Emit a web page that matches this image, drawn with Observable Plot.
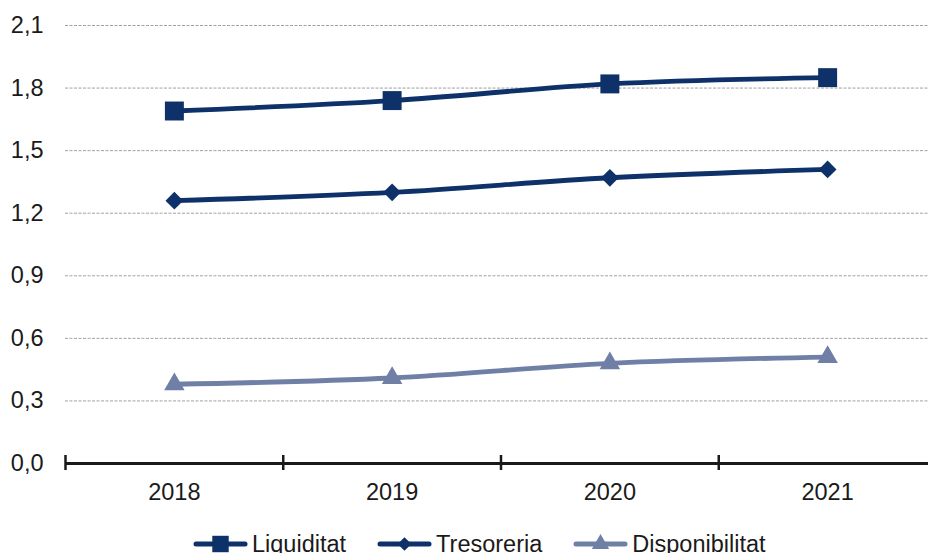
<!DOCTYPE html>
<html><head><meta charset="utf-8">
<script src="https://cdn.jsdelivr.net/npm/d3@7"></script>
<script src="https://cdn.jsdelivr.net/npm/@observablehq/plot@0.6"></script>
<style>
html,body{margin:0;padding:0;background:#fff;overflow:hidden;}
#chart{width:928px;height:553px;position:relative;font-family:"Liberation Sans",Arial,sans-serif;}
#legend{display:flex;align-items:center;height:36px;padding-left:193px;font-size:23.5px;color:#1a1a1a;white-space:nowrap;}
.item{display:flex;align-items:center;margin-right:31px}
.item span{margin-left:4px}
</style></head><body><div id="chart"></div>
<script>
const years = [2018, 2019, 2020, 2021];
const liquiditat = [1.69, 1.74, 1.82, 1.85];
const tresoreria = [1.26, 1.30, 1.37, 1.41];
const disponibilitat = [0.38, 0.41, 0.48, 0.51];
const seriesNames = ["Liquiditat", "Tresoreria", "Disponibilitat"];
const seriesValues = [liquiditat, tresoreria, disponibilitat];
const seriesColors = ["#0d3168", "#0d3168", "#6f7fa6"];
const seriesSymbols = ["square", "diamond2", "triangle"];
const seriesR = [10.7, 8, 7.6];
const yTicks = [0, 0.3, 0.6, 0.9, 1.2, 1.5, 1.8, 2.1];
const xBounds = [2017.5, 2018.5, 2019.5, 2020.5];

const rows = seriesNames.flatMap((s, k) => years.map((y, i) => ({year: y, value: seriesValues[k][i], series: s})));
const font = "'Liberation Sans', Arial, sans-serif";

const marks = [
  Plot.ruleY(yTicks.filter(d => d > 0), {stroke: "#a0a0a0", strokeWidth: 1, strokeDasharray: "3,1.5"}),
  Plot.line(rows, {x: "year", y: "value", z: "series", stroke: "series", strokeWidth: 4.8, curve: "catmull-rom"}),
  ...seriesNames.map((s, k) => Plot.dot(rows.filter(d => d.series === s), {x: "year", y: "value", symbol: seriesSymbols[k], fill: seriesColors[k], r: seriesR[k], stroke: "none"})),
  Plot.ruleY([0], {stroke: "#1a1a1a", strokeWidth: 3}),
  Plot.ruleX(xBounds, {y1: 0, y2: 0, insetTop: -8, insetBottom: -7, stroke: "#1a1a1a", strokeWidth: 2.5}),
  Plot.axisY(yTicks, {tickSize: 0, tickPadding: 22, fontSize: 23.5, label: null, tickFormat: d => d.toFixed(1).replace(".", ","), fill: "#1a1a1a"}),
  Plot.axisX(years, {tickSize: 0, tickPadding: 20, fontSize: 23.5, label: null, tickFormat: d => String(d), fill: "#1a1a1a"})
];

const chart = Plot.plot({
  width: 928, height: 526,
  marginLeft: 65, marginRight: 0, marginTop: 25, marginBottom: 63,
  x: {domain: [2017.5, 2021.5], range: [65, 936], label: null},
  y: {domain: [0, 2.1], label: null},
  color: {domain: seriesNames, range: seriesColors},
  style: {fontFamily: font, fontSize: "23.5px", color: "#1a1a1a", overflow: "visible", background: "#fff"},
  marks
});
const root = document.getElementById("chart");
root.appendChild(chart);

const legend = document.createElement("div");
legend.id = "legend";
seriesNames.forEach((s, k) => {
  const item = document.createElement("div");
  item.className = "item";
  const svg = d3.create("svg").attr("width", 55).attr("height", 24);
  svg.append("line").attr("x1", 3).attr("x2", 52).attr("y1", 12).attr("y2", 12)
    .attr("stroke", seriesColors[k]).attr("stroke-width", 5).attr("stroke-linecap", "round");
  const symMap = {square: d3.symbolSquare, diamond2: d3.symbolDiamond2, triangle: d3.symbolTriangle};
  const size = [270, 120, 130][k];
  svg.append("path").attr("transform", "translate(27.5,12)")
    .attr("d", d3.symbol(symMap[seriesSymbols[k]], size)()).attr("fill", seriesColors[k]);
  item.appendChild(svg.node());
  const t = document.createElement("span");
  t.textContent = s;
  item.appendChild(t);
  legend.appendChild(item);
});
root.appendChild(legend);
</script>
</body></html>
